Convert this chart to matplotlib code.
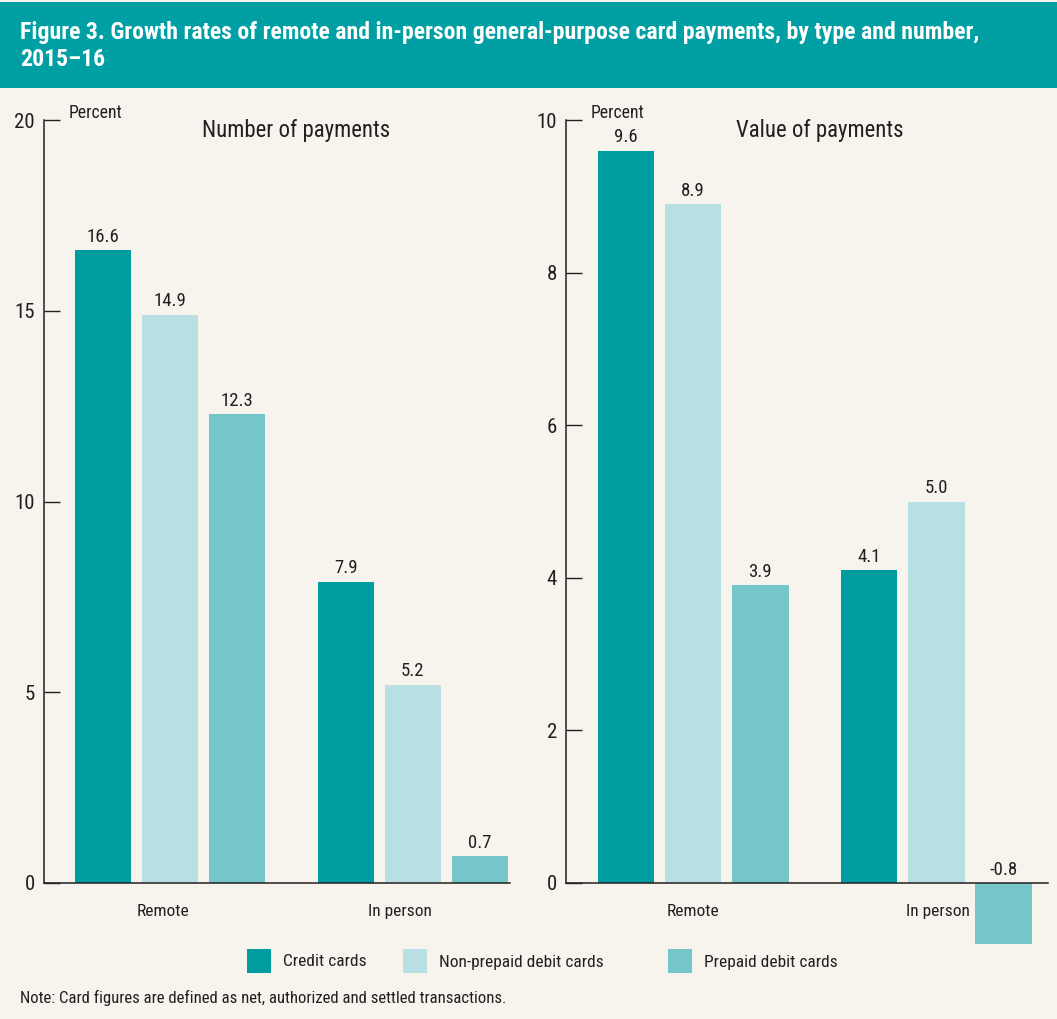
import matplotlib

matplotlib.use("Agg")
import matplotlib.pyplot as plt
from matplotlib.patches import Rectangle
import numpy as np

plt.rcParams["font.family"] = ["Roboto Condensed", "DejaVu Sans"]

GROUPS = ["Remote", "In person"]
SERIES = ["Credit cards", "Non-prepaid debit cards", "Prepaid debit cards"]
NUMBER = {  # percent growth, number of payments
    "Credit cards": [16.6, 7.9],
    "Non-prepaid debit cards": [14.9, 5.2],
    "Prepaid debit cards": [12.3, 0.7],
}
VALUE = {  # percent growth, value of payments
    "Credit cards": [9.6, 4.1],
    "Non-prepaid debit cards": [8.9, 5.0],
    "Prepaid debit cards": [3.9, -0.8],
}
NUM_TICKS = [0, 5, 10, 15, 20]
VAL_TICKS = [0, 2, 4, 6, 8, 10]

COLORS = {"Credit cards": "#009da0", "Non-prepaid debit cards": "#b8dfe2",
          "Prepaid debit cards": "#74c6c9"}
BG = "#f7f4ee"
TEAL = "#009fa3"
INK = "#231f20"

W, H = 1057, 1019
fig = plt.figure(figsize=(W / 100, H / 100), dpi=100, facecolor=BG)

# title bar
fig.patches.append(Rectangle((0, 1 - 88 / H), 1, 86 / H, transform=fig.transFigure,
                             facecolor=TEAL, edgecolor="none", zorder=0))
fig.text(20 / W, 1 - 32 / H, "Figure 3. Growth rates of remote and in-person general-purpose card payments, by type and number,",
         color="white", fontsize=17.1, fontweight="bold", va="center", ha="left")
fig.text(20 / W, 1 - 59 / H, "2015–16", color="white", fontsize=17.1, fontweight="bold",
         va="center", ha="left")


def panel(rect, data, ticks, title, title_x, xlim, label_shift):
    ax = fig.add_axes(rect)
    ax.set_facecolor("none")
    x = np.arange(len(GROUPS))
    step, width = 0.276, 0.232
    for i, s in enumerate(SERIES):
        vals = data[s]
        pos = x + (i - 1) * step
        ax.bar(pos, vals, width, color=COLORS[s], clip_on=False, zorder=2)
        for p, v in zip(pos, vals):
            ax.annotate(f"{v:.1f}", (p, max(v, 0)), xytext=(0, 3), textcoords="offset points",
                        ha="center", va="bottom", fontsize=13.5, color=INK)
    ax.set_xlim(*xlim)
    ax.set_ylim(0, ticks[-1])
    ax.set_yticks(ticks)
    ax.set_yticklabels([str(t) for t in ticks])
    ax.tick_params(axis="y", direction="in", length=11.5, width=1, color=INK, pad=6.5,
                   labelsize=15, labelcolor=INK)
    ax.tick_params(axis="x", length=0)
    ax.set_xticks([])
    for g, gx, dx in zip(GROUPS, x, label_shift):
        ax.text(gx + dx, -ticks[-1] * 0.038, g, ha="center", va="center", fontsize=12.5, color=INK)
    for side in ("top", "right"):
        ax.spines[side].set_visible(False)
    for side in ("left", "bottom"):
        ax.spines[side].set_color(INK)
        ax.spines[side].set_linewidth(1.1)
        ax.spines[side].set_zorder(3)
    ax.text(0.052, 1.009, "Percent", transform=ax.transAxes, ha="left", va="center",
            fontsize=12.7, color=INK)
    fig.text(title_x / W, 1 - 131 / H, title, ha="center", va="center", fontsize=16.4, color=INK)
    return ax


panel([44 / W, 136 / H, 466 / W, 763 / H], NUMBER, NUM_TICKS, "Number of payments", 296,
      (-0.519, 1.40), (-0.027, -0.053))
panel([566 / W, 136 / H, 482 / W, 763 / H], VALUE, VAL_TICKS, "Value of payments", 820,
      (-0.523, 1.459), (0.0, 0.006))

# legend
leg_x = [247, 403, 668]
for s, lx in zip(SERIES, leg_x):
    fig.patches.append(Rectangle((lx / W, 1 - 973 / H), 24 / W, 24 / H, transform=fig.transFigure,
                                 facecolor=COLORS[s], edgecolor="none"))
    fig.text((lx + 36) / W, 1 - 962 / H, s, ha="left", va="center", fontsize=12.5, color=INK)

fig.text(20 / W, 1 - 998 / H, "Note: Card figures are defined as net, authorized and settled transactions.",
         ha="left", va="center", fontsize=12.1, color=INK)

fig.savefig("out.png", dpi=100, facecolor=BG)
